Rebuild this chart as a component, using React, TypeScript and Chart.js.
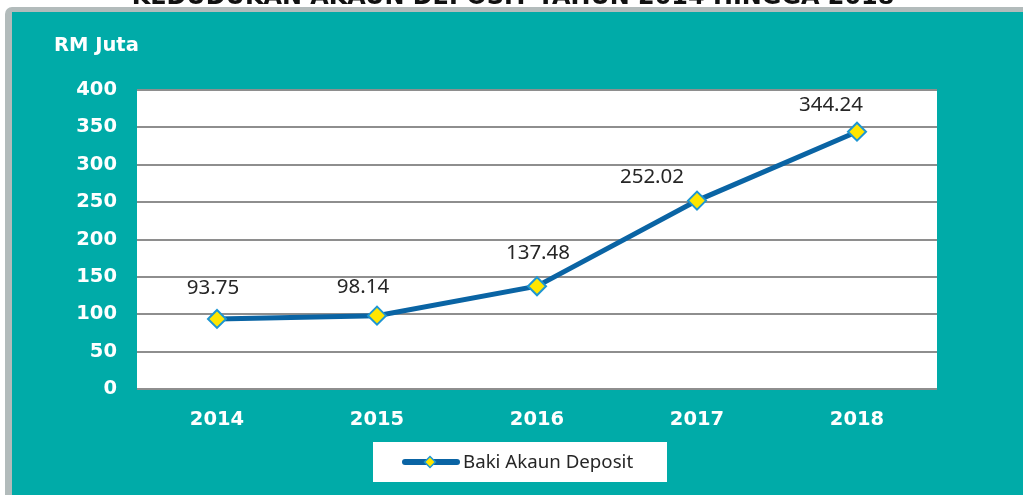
import React, { useEffect, useRef } from "react";
import { Chart, registerables } from "chart.js";

Chart.register(...registerables);

const titleText = "KEDUDUKAN AKAUN DEPOSIT TAHUN 2014 HINGGA 2018";
const unitLabel = "RM Juta";
const seriesName = "Baki Akaun Deposit";
const years = ["2014", "2015", "2016", "2017", "2018"];
const deposits = [93.75, 98.14, 137.48, 252.02, 344.24];
const yTicks = [0, 50, 100, 150, 200, 250, 300, 350, 400];
// label nudges (px) relative to each point, as placed in the original
const labelDx = [-4, -14, 1, -45, -26];
const labelDy = [-31, -28, -33, -23, -27];

const TEAL = "#00ABA8";
const LINE = "#0A64A4";
const MARK_FILL = "#FFE600";
const MARK_EDGE = "#1E96D2";
const TEXT_DARK = "#262626";
const BOLD_FONT = "'DejaVu Sans', sans-serif";
const NORMAL_FONT = "'Noto Sans', 'DejaVu Sans', sans-serif";

const decor = {
  id: "decor",
  beforeDraw(chart: any) {
    const { ctx, width, height, chartArea } = chart;
    ctx.save();
    ctx.fillStyle = "#ffffff";
    ctx.fillRect(0, 0, width, height);
    // cut title
    let size = 22;
    ctx.font = `bold ${size}px ${BOLD_FONT}`;
    const w = ctx.measureText(titleText).width;
    size = size * (763 / w);
    ctx.font = `bold ${size}px ${BOLD_FONT}`;
    ctx.fillStyle = "#111";
    ctx.textAlign = "center";
    ctx.textBaseline = "alphabetic";
    ctx.fillText(titleText, 513, 4);
    // frame
    ctx.fillStyle = "#B2BBBB";
    ctx.beginPath();
    (ctx as any).roundRect(5, 7, width + 20, height + 20, 7);
    ctx.fill();
    ctx.fillStyle = TEAL;
    ctx.fillRect(12, 12, width, height);
    // plot area
    ctx.fillStyle = "#ffffff";
    ctx.fillRect(chartArea.left, chartArea.top, chartArea.right - chartArea.left, chartArea.bottom - chartArea.top);
    // unit label
    ctx.fillStyle = "#ffffff";
    ctx.font = `bold 19.5px ${BOLD_FONT}`;
    ctx.textAlign = "left";
    ctx.textBaseline = "middle";
    ctx.fillText(unitLabel, 54, 46);
    ctx.restore();
  },
  afterDatasetsDraw(chart: any) {
    const { ctx } = chart;
    const meta = chart.getDatasetMeta(0);
    const data = chart.data.datasets[0].data as number[];
    ctx.save();
    ctx.fillStyle = TEXT_DARK;
    ctx.font = `20.5px ${NORMAL_FONT}`;
    ctx.textAlign = "center";
    ctx.textBaseline = "middle";
    meta.data.forEach((pt: any, i: number) => {
      ctx.fillText(data[i].toFixed(2), pt.x + labelDx[i], pt.y + labelDy[i]);
    });
    ctx.restore();
  },
  afterDraw(chart: any) {
    const { ctx } = chart;
    ctx.save();
    // legend box
    ctx.fillStyle = "#ffffff";
    ctx.fillRect(373, 442, 294, 40);
    const cy = 462;
    ctx.strokeStyle = LINE;
    ctx.lineWidth = 6;
    ctx.lineCap = "round";
    ctx.beginPath();
    ctx.moveTo(405, cy);
    ctx.lineTo(457, cy);
    ctx.stroke();
    ctx.fillStyle = MARK_FILL;
    ctx.strokeStyle = MARK_EDGE;
    ctx.lineWidth = 1.5;
    ctx.beginPath();
    ctx.moveTo(430, cy - 5.5);
    ctx.lineTo(435.5, cy);
    ctx.lineTo(430, cy + 5.5);
    ctx.lineTo(424.5, cy);
    ctx.closePath();
    ctx.fill();
    ctx.stroke();
    ctx.fillStyle = TEXT_DARK;
    ctx.font = `18.7px ${NORMAL_FONT}`;
    ctx.textAlign = "left";
    ctx.textBaseline = "middle";
    ctx.fillText(chart.data.datasets[0].label, 463, cy + 1);
    ctx.restore();
  },
};

export default function App() {
  const ref = useRef<HTMLCanvasElement | null>(null);
  useEffect(() => {
    document.body.style.margin = "0";
    const canvas = ref.current!;
    const chart = new Chart(canvas, {
      type: "line",
      data: {
        labels: years,
        datasets: [
          {
            label: seriesName,
            data: deposits,
            borderColor: LINE,
            borderWidth: 5,
            tension: 0,
            pointStyle: "rectRot",
            pointRadius: 9,
            pointHoverRadius: 9,
            pointBackgroundColor: MARK_FILL,
            pointBorderColor: MARK_EDGE,
            pointBorderWidth: 2,
          },
        ],
      },
      options: {
        responsive: false,
        animation: false,
        events: [],
        layout: { padding: { top: 90, right: 86, left: 0, bottom: 0 } },
        scales: {
          x: {
            offset: true,
            grid: { display: false, drawTicks: false },
            border: { display: false },
            ticks: {
              color: "#ffffff",
              padding: 19,
              font: { family: BOLD_FONT, size: 19.5, weight: "bold" },
            },
            afterFit(s: any) {
              s.height = 106;
            },
          },
          y: {
            min: 0,
            max: 400,
            afterBuildTicks(s: any) {
              s.ticks = yTicks.map((v) => ({ value: v }));
            },
            grid: { color: "#8E8E8E", lineWidth: 2, drawTicks: false },
            border: { display: false },
            ticks: {
              color: "#ffffff",
              padding: 20,
              font: { family: BOLD_FONT, size: 19.5, weight: "bold" },
            },
            afterFit(s: any) {
              s.width = 137;
            },
          },
        },
        plugins: { legend: { display: false }, tooltip: { enabled: false }, title: { display: false } },
      },
      plugins: [decor],
    } as any);
    return () => chart.destroy();
  }, []);
  return (
    <div style={{ width: 1023, height: 495 }}>
      <canvas ref={ref} width={1023} height={495} style={{ display: "block" }} />
    </div>
  );
}
